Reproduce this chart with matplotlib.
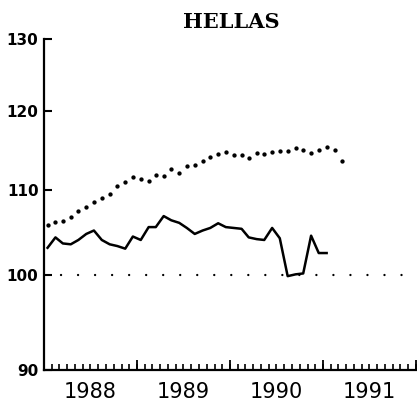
import pandas as pd
import numpy as np
import matplotlib
matplotlib.use("Agg")
import matplotlib.pyplot as plt
import matplotlib.dates as mdates
from matplotlib.ticker import FixedLocator, FixedFormatter, NullFormatter, NullLocator

plt.rcParams["xtick.direction"] = "in"
plt.rcParams["ytick.direction"] = "in"

# monthly series, starting Jan 1988
dotted_vals = [105.8, 106.1, 106.2, 106.7, 107.4, 107.9, 108.5, 109.0, 109.5, 110.4,
               110.9, 111.5, 111.3, 111.0, 111.8, 111.7, 112.5, 112.1, 112.9, 113.0,
               113.5, 114.1, 114.4, 114.7, 114.3, 114.3, 113.9, 114.5, 114.4, 114.7,
               114.8, 114.8, 115.2, 115.0, 114.6, 115.0, 115.3, 114.9, 113.6]
solid_vals = [103.1, 104.3, 103.6, 103.5, 104.0, 104.7, 105.1, 104.0, 103.5, 103.3,
              103.0, 104.4, 104.0, 105.5, 105.5, 106.8, 106.3, 106.0, 105.4, 104.7,
              105.1, 105.4, 105.95, 105.5, 105.4, 105.3, 104.3, 104.1, 104.0, 105.4,
              104.2, 99.9, 100.1, 100.2, 104.5, 102.5, 102.5]
y_ticks = [90, 100, 110, 120, 130]
baseline = 100
title = "HELLAS"

dates_dotted = pd.date_range("1988-01-01", periods=len(dotted_vals), freq="MS") + pd.Timedelta(days=14)
dates_solid = pd.date_range("1988-01-01", periods=len(solid_vals), freq="MS") + pd.Timedelta(days=14)

fig = plt.figure(figsize=(4.17, 4.07), dpi=100)
ax = fig.add_axes([44 / 417, 37 / 407, 372 / 417, 330.7 / 407])

ax.plot(dates_dotted, dotted_vals, linestyle="none", marker="o", ms=2.1, color="black")
ax.plot(dates_solid, solid_vals, color="black", lw=1.8)
ax.axhline(baseline, color="black", lw=1.7, linestyle=(0, (0.01, 7.2)), dash_capstyle="round")

ax.set_yscale("log")
ax.set_ylim(90, 130)
ax.yaxis.set_major_locator(FixedLocator(y_ticks))
ax.yaxis.set_major_formatter(FixedFormatter([str(t) for t in y_ticks]))
ax.yaxis.set_minor_locator(NullLocator())
ax.yaxis.set_minor_formatter(NullFormatter())
ax.tick_params(axis="y", direction="in", length=6, width=1.5, pad=4, labelsize=11)
for lab in ax.get_yticklabels():
    lab.set_fontweight("bold")

ax.set_xlim(pd.Timestamp("1988-01-01"), pd.Timestamp("1992-01-01"))
ax.xaxis.set_major_locator(mdates.MonthLocator())
ax.xaxis.set_major_formatter(NullFormatter())
ax.tick_params(axis="x", direction="in", length=4, width=1.2)

# taller ticks at year boundaries
sec = ax.secondary_xaxis("bottom")
sec.xaxis.set_major_locator(mdates.YearLocator())
sec.xaxis.set_major_formatter(NullFormatter())
sec.tick_params(direction="in", length=7, width=1.3)
sec.spines["bottom"].set_visible(False)

# year labels centred in each year
lab_ax = ax.secondary_xaxis("bottom")
lab_ax.xaxis.set_major_locator(mdates.MonthLocator(bymonth=7))
lab_ax.xaxis.set_major_formatter(mdates.DateFormatter("%Y"))
lab_ax.tick_params(length=0, pad=9, labelsize=15)
lab_ax.spines["bottom"].set_visible(False)

for s in ["top", "right"]:
    ax.spines[s].set_visible(False)
ax.spines["left"].set_linewidth(1.6)
ax.spines["bottom"].set_linewidth(1.6)

fig.text(231 / 417, 1 - 22 / 407, title, ha="center", va="center",
         fontsize=15, fontweight="heavy", family="DejaVu Serif")

fig.savefig("out.png", dpi=100)
